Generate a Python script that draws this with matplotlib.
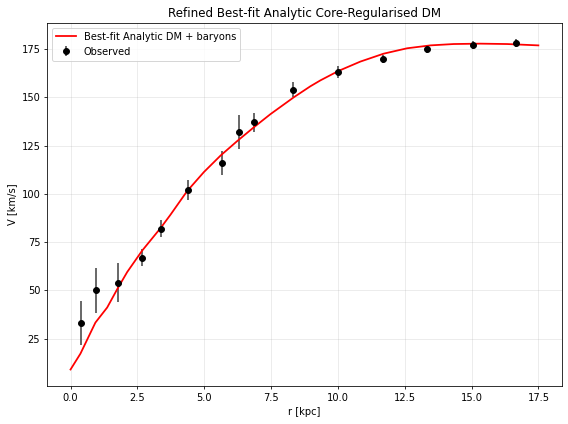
import matplotlib
matplotlib.use('Agg')
import matplotlib.pyplot as plt
import numpy as np

# observed rotation curve
r_obs = [0.41, 0.97, 1.76, 2.69, 3.37, 4.38, 5.65, 6.32, 6.88, 8.34, 10.02, 11.67, 13.35, 15.07, 16.68]
v_obs = [33, 50, 54, 67, 82, 102, 116, 132, 137, 154, 163, 170, 175, 177, 178]
v_err = [11.5, 11.5, 10, 4.5, 4.5, 5, 6, 9, 5, 4, 3, 2, 2, 2, 2]

# best-fit model curve
r_fit = [0.0, 0.37, 0.93, 1.37, 1.75, 2.12, 2.68, 3.37, 3.74, 4.36, 4.99, 5.61, 6.24,
         6.86, 7.48, 8.35, 8.97, 9.35, 10.03, 10.84, 11.71, 12.59, 13.46, 14.33,
         15.33, 16.33, 17.5]
v_fit = [9.0, 17.2, 33.3, 41.1, 50.7, 59.5, 70.6, 82.3, 89.2, 101.4, 111.3, 119.8, 127.4,
         134.5, 141.3, 150.0, 155.7, 158.8, 163.7, 168.5, 172.6, 175.4, 176.9, 177.6,
         177.8, 177.6, 176.9]

fig, ax = plt.subplots(figsize=(568/71, 424/71), dpi=71)
fig.subplots_adjust(left=0.083, right=0.989, top=0.946, bottom=0.0896)

ax.errorbar(r_obs, v_obs, yerr=v_err, fmt='ko', ecolor='#444444', elinewidth=1.6, label='Observed')
ax.plot(r_fit, v_fit, 'r-', lw=1.8, label='Best-fit Analytic DM + baryons')

ax.set_xlabel('r [kpc]')
ax.set_ylabel('V [km/s]')
ax.set_title('Refined Best-fit Analytic Core-Regularised DM')
ax.grid(alpha=0.3)
ax.legend(loc='upper left')

fig.savefig('out.png', dpi=71)
